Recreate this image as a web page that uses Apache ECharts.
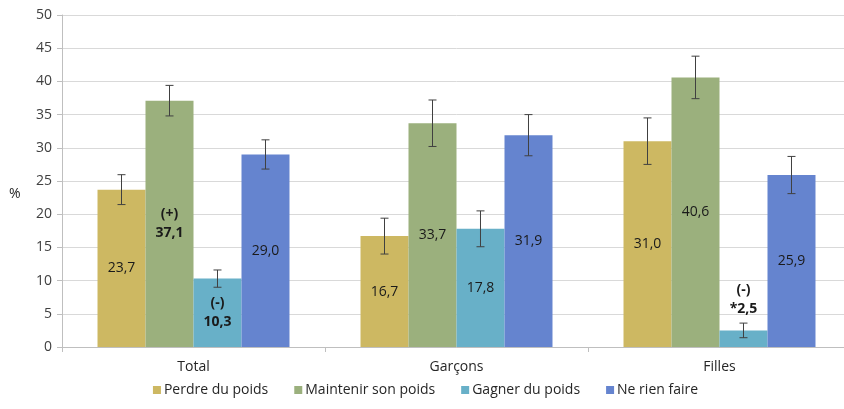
<!DOCTYPE html>
<html>
<head>
<meta charset="utf-8">
<script src="https://cdn.jsdelivr.net/npm/echarts@6/dist/echarts.min.js"></script>
<style>
html,body{margin:0;padding:0;background:#fff;overflow:hidden;width:844px;height:409px;}
#chart{width:851px;height:409px;}
</style>
</head>
<body>
<div id="chart"></div>
<script>
// ---- data ----
const categories = ['Total', 'Garçons', 'Filles'];
const seriesNames = ['Perdre du poids', 'Maintenir son poids', 'Gagner du poids', 'Ne rien faire'];
const perdre = [23.7, 16.7, 31.0];
const maintenir = [37.1, 33.7, 40.6];
const gagner = [10.3, 17.8, 2.5];
const rienFaire = [29.0, 31.9, 25.9];
// error bar half-widths (confidence intervals)
const errPerdre = [2.25, 2.7, 3.5];
const errMaintenir = [2.3, 3.5, 3.2];
const errGagner = [1.3, 2.7, 1.1];
const errRienFaire = [2.2, 3.1, 2.8];
// significance annotations
const notePerdre = ['', '', ''];
const noteMaintenir = ['(+)', '', ''];
const noteGagner = ['(-)', '', '(-)'];
const noteRienFaire = ['', '', ''];
const prefixGagner = ['', '', '*'];
const yTicks = [0, 5, 10, 15, 20, 25, 30, 35, 40, 45, 50];

const colors = ['#CDB862', '#9BB07D', '#68B0C8', '#6584CF'];
const values = [perdre, maintenir, gagner, rienFaire];
const errors = [errPerdre, errMaintenir, errGagner, errRienFaire];
const notes = [notePerdre, noteMaintenir, noteGagner, noteRienFaire];
const prefixes = [['', '', ''], ['', '', ''], prefixGagner, ['', '', '']];

const CAT_GAP = 0.27;
const FONT = '"Open Sans", "Liberation Sans", sans-serif';

function fmt(v) { return v.toFixed(1).replace('.', ','); }

const series = [];
values.forEach((vals, si) => {
  series.push({
    name: seriesNames[si],
    type: 'bar',
    barGap: 0,
    barCategoryGap: (CAT_GAP * 100) + '%',
    itemStyle: { color: colors[si] },
    data: vals.map((v, ci) => {
      const note = notes[si][ci];
      const txt = prefixes[si][ci] + fmt(v);
      const small = v < 5;
      return {
        value: v,
        label: {
          show: true,
          position: small ? 'top' : 'inside',
          distance: small ? 12 : 5,
          formatter: note ? '{b|' + note + '}\n{b|' + txt + '}' : '{n|' + txt + '}',
          rich: {
            b: { fontWeight: 'bold', fontSize: 14, lineHeight: 19, color: '#1a1a1a', fontFamily: FONT },
            n: { fontSize: 14, lineHeight: 19, color: '#1a1a1a', fontFamily: FONT }
          }
        }
      };
    }),
    z: 2
  });
});

// error bars
values.forEach((vals, si) => {
  series.push({
    type: 'custom',
    name: 'err' + si,
    z: 5,
    silent: true,
    data: vals.map((v, ci) => [ci, v - errors[si][ci], v + errors[si][ci]]),
    renderItem: function (params, api) {
      const ci = api.value(0);
      const lo = api.coord([ci, api.value(1)]);
      const hi = api.coord([ci, api.value(2)]);
      const band = api.size([1, 0])[0];
      const bw = band * (1 - CAT_GAP) / 4;
      const x = lo[0] + (si - 1.5) * bw;
      const cap = 4;
      const style = { stroke: '#404040', lineWidth: 1, fill: null };
      return {
        type: 'group',
        children: [
          { type: 'line', shape: { x1: x, y1: lo[1], x2: x, y2: hi[1] }, style: style },
          { type: 'line', shape: { x1: x - cap, y1: lo[1], x2: x + cap, y2: lo[1] }, style: style },
          { type: 'line', shape: { x1: x - cap, y1: hi[1], x2: x + cap, y2: hi[1] }, style: style }
        ]
      };
    }
  });
});

const chart = echarts.init(document.getElementById('chart'), null, { renderer: 'canvas' });
chart.setOption({
  animation: false,
  backgroundColor: '#fff',
  textStyle: { fontFamily: FONT },
  grid: { left: 62, right: 0, top: 15, height: 332, containLabel: false },
  graphic: [{
    type: 'text',
    left: 9,
    top: 187,
    style: { text: '%', fontSize: 14, fill: '#262626', fontFamily: FONT }
  }],
  legend: {
    data: seriesNames,
    top: 378,
    left: 'center',
    itemWidth: 8,
    itemHeight: 8,
    itemGap: 26,
    icon: 'rect',
    textStyle: { fontSize: 14, color: '#262626', fontFamily: FONT, padding: [0, 0, 0, -2] }
  },
  xAxis: {
    type: 'category',
    data: categories,
    axisLine: { show: true, lineStyle: { color: '#bfbfbf', width: 1 } },
    axisTick: { show: true, length: 5, lineStyle: { color: '#bfbfbf' } },
    axisLabel: { fontSize: 14, color: '#262626', margin: 13, fontFamily: FONT },
    splitLine: { show: false }
  },
  yAxis: {
    type: 'value',
    min: yTicks[0],
    max: yTicks[yTicks.length - 1],
    interval: yTicks[1] - yTicks[0],
    axisLine: { show: true, lineStyle: { color: '#bfbfbf', width: 1 } },
    axisTick: { show: true, length: 5, lineStyle: { color: '#bfbfbf' } },
    axisLabel: { fontSize: 14, color: '#404040', margin: 10, fontFamily: FONT },
    splitLine: { show: true, lineStyle: { color: '#d9d9d9', width: 1 } }
  },
  series: series
});
</script>
</body>
</html>
